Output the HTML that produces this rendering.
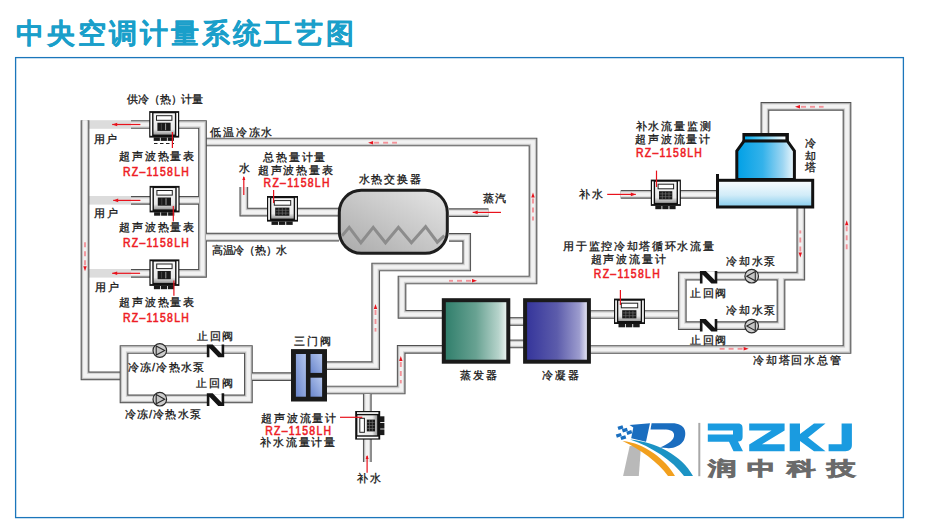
<!DOCTYPE html><html><head><meta charset="utf-8"><style>
html,body{margin:0;padding:0;background:#fff;width:927px;height:532px;overflow:hidden}
svg{display:block;font-family:"Liberation Sans",sans-serif}
</style></head><body>
<svg width="927" height="532" viewBox="0 0 927 532">
<defs>
<linearGradient id="gEvap" x1="0" x2="1" y1="0" y2="0"><stop offset="0" stop-color="#2e7d6a"/><stop offset="0.5" stop-color="#68a292"/><stop offset="0.85" stop-color="#b6d3cb"/><stop offset="1" stop-color="#f4f8f6"/></linearGradient>
<linearGradient id="gCond" x1="0" x2="1" y1="0" y2="0"><stop offset="0" stop-color="#33339a"/><stop offset="0.5" stop-color="#5c5cab"/><stop offset="0.85" stop-color="#9c9cce"/><stop offset="1" stop-color="#f2f2fa"/></linearGradient>
<linearGradient id="gExch" x1="0" x2="1" y1="1" y2="0"><stop offset="0" stop-color="#a9a9a9"/><stop offset="1" stop-color="#e6e6e6"/></linearGradient>
<linearGradient id="gValve" x1="0" x2="1" y1="1" y2="0"><stop offset="0" stop-color="#6a86cc"/><stop offset="1" stop-color="#b4c6ee"/></linearGradient>
<linearGradient id="gTower" x1="0" x2="1" y1="0" y2="0"><stop offset="0" stop-color="#00a0e6"/><stop offset="0.45" stop-color="#34b2ea"/><stop offset="0.8" stop-color="#9ed6f2"/><stop offset="1" stop-color="#eef8fd"/></linearGradient>
<linearGradient id="gBasin" x1="0" x2="0" y1="0" y2="1"><stop offset="0" stop-color="#fafdff"/><stop offset="0.55" stop-color="#d2ecf8"/><stop offset="1" stop-color="#86cdee"/></linearGradient>
<linearGradient id="gPanel" x1="0" x2="0" y1="0" y2="1"><stop offset="0" stop-color="#f6f6f6"/><stop offset="0.75" stop-color="#e8e8e8"/><stop offset="1" stop-color="#9a9a9a"/></linearGradient>
<linearGradient id="gCap" x1="0" x2="1" y1="0" y2="0"><stop offset="0" stop-color="#00aef0"/><stop offset="1" stop-color="#ffffff"/></linearGradient>
</defs>

<text x="15.5" y="42.5" font-size="28" font-weight="bold" letter-spacing="3.1" fill="#1a9fca" stroke="#1a9fca" stroke-width="0.25" stroke-linejoin="round">中央空调计量系统工艺图</text>
<rect x="15.6" y="57.6" width="887.8" height="460" fill="none" stroke="#1b76bb" stroke-width="1.3"/>
<rect x="89" y="120.2" width="42" height="8.6" fill="#dcdcdc"/>
<rect x="89" y="196.0" width="42" height="8.6" fill="#dcdcdc"/>
<rect x="89" y="269.0" width="42" height="8.6" fill="#dcdcdc"/>
<path d="M85,120.3 V375.8 H124.5" fill="none" stroke="#505050" stroke-width="8.7" stroke-linejoin="miter"/>
<path d="M85,120.3 V375.8 H124.5" fill="none" stroke="#aaaaaa" stroke-width="6.799999999999999" stroke-linejoin="miter"/>
<path d="M85,120.3 V375.8 H124.5" fill="none" stroke="#d4d4d4" stroke-width="5.3999999999999995" stroke-linejoin="miter"/>
<path d="M85,120.3 V375.8 H124.5" fill="none" stroke="#f2f2f2" stroke-width="3.6999999999999993" stroke-linejoin="miter"/>
<path d="M124,349.5 H248.4 V398.8 H124 Z" fill="none" stroke="#505050" stroke-width="8.7" stroke-linejoin="miter"/>
<path d="M124,349.5 H248.4 V398.8 H124 Z" fill="none" stroke="#aaaaaa" stroke-width="6.799999999999999" stroke-linejoin="miter"/>
<path d="M124,349.5 H248.4 V398.8 H124 Z" fill="none" stroke="#d4d4d4" stroke-width="5.3999999999999995" stroke-linejoin="miter"/>
<path d="M124,349.5 H248.4 V398.8 H124 Z" fill="none" stroke="#f2f2f2" stroke-width="3.6999999999999993" stroke-linejoin="miter"/>
<path d="M252,376.6 H292" fill="none" stroke="#505050" stroke-width="8.7" stroke-linejoin="miter"/>
<path d="M252,376.6 H292" fill="none" stroke="#aaaaaa" stroke-width="6.799999999999999" stroke-linejoin="miter"/>
<path d="M252,376.6 H292" fill="none" stroke="#d4d4d4" stroke-width="5.3999999999999995" stroke-linejoin="miter"/>
<path d="M252,376.6 H292" fill="none" stroke="#f2f2f2" stroke-width="3.6999999999999993" stroke-linejoin="miter"/>
<path d="M326,365.6 H375.7 V267 H466.7 V237.4 H449" fill="none" stroke="#505050" stroke-width="8.7" stroke-linejoin="miter"/>
<path d="M326,365.6 H375.7 V267 H466.7 V237.4 H449" fill="none" stroke="#aaaaaa" stroke-width="6.799999999999999" stroke-linejoin="miter"/>
<path d="M326,365.6 H375.7 V267 H466.7 V237.4 H449" fill="none" stroke="#d4d4d4" stroke-width="5.3999999999999995" stroke-linejoin="miter"/>
<path d="M326,365.6 H375.7 V267 H466.7 V237.4 H449" fill="none" stroke="#f2f2f2" stroke-width="3.6999999999999993" stroke-linejoin="miter"/>
<path d="M326,390 H401.2 V349.3 H443" fill="none" stroke="#505050" stroke-width="8.7" stroke-linejoin="miter"/>
<path d="M326,390 H401.2 V349.3 H443" fill="none" stroke="#aaaaaa" stroke-width="6.799999999999999" stroke-linejoin="miter"/>
<path d="M326,390 H401.2 V349.3 H443" fill="none" stroke="#d4d4d4" stroke-width="5.3999999999999995" stroke-linejoin="miter"/>
<path d="M326,390 H401.2 V349.3 H443" fill="none" stroke="#f2f2f2" stroke-width="3.6999999999999993" stroke-linejoin="miter"/>
<path d="M202.5,142 H533 V280 H402 V314.3 H443" fill="none" stroke="#505050" stroke-width="8.7" stroke-linejoin="miter"/>
<path d="M202.5,142 H533 V280 H402 V314.3 H443" fill="none" stroke="#aaaaaa" stroke-width="6.799999999999999" stroke-linejoin="miter"/>
<path d="M202.5,142 H533 V280 H402 V314.3 H443" fill="none" stroke="#d4d4d4" stroke-width="5.3999999999999995" stroke-linejoin="miter"/>
<path d="M202.5,142 H533 V280 H402 V314.3 H443" fill="none" stroke="#f2f2f2" stroke-width="3.6999999999999993" stroke-linejoin="miter"/>
<path d="M131,124.5 H202.5 V273.3 H131" fill="none" stroke="#505050" stroke-width="8.7" stroke-linejoin="miter"/>
<path d="M131,124.5 H202.5 V273.3 H131" fill="none" stroke="#aaaaaa" stroke-width="6.799999999999999" stroke-linejoin="miter"/>
<path d="M131,124.5 H202.5 V273.3 H131" fill="none" stroke="#d4d4d4" stroke-width="5.3999999999999995" stroke-linejoin="miter"/>
<path d="M131,124.5 H202.5 V273.3 H131" fill="none" stroke="#f2f2f2" stroke-width="3.6999999999999993" stroke-linejoin="miter"/>
<path d="M131,200.3 H199" fill="none" stroke="#505050" stroke-width="8.7" stroke-linejoin="miter"/>
<path d="M131,200.3 H199" fill="none" stroke="#aaaaaa" stroke-width="6.799999999999999" stroke-linejoin="miter"/>
<path d="M131,200.3 H199" fill="none" stroke="#d4d4d4" stroke-width="5.3999999999999995" stroke-linejoin="miter"/>
<path d="M131,200.3 H199" fill="none" stroke="#f2f2f2" stroke-width="3.6999999999999993" stroke-linejoin="miter"/>
<path d="M206,237.2 H339" fill="none" stroke="#505050" stroke-width="8.7" stroke-linejoin="miter"/>
<path d="M206,237.2 H339" fill="none" stroke="#aaaaaa" stroke-width="6.799999999999999" stroke-linejoin="miter"/>
<path d="M206,237.2 H339" fill="none" stroke="#d4d4d4" stroke-width="5.3999999999999995" stroke-linejoin="miter"/>
<path d="M206,237.2 H339" fill="none" stroke="#f2f2f2" stroke-width="3.6999999999999993" stroke-linejoin="miter"/>
<path d="M243.8,187 V212.2 H339" fill="none" stroke="#505050" stroke-width="8.7" stroke-linejoin="miter"/>
<path d="M243.8,187 V212.2 H339" fill="none" stroke="#aaaaaa" stroke-width="6.799999999999999" stroke-linejoin="miter"/>
<path d="M243.8,187 V212.2 H339" fill="none" stroke="#d4d4d4" stroke-width="5.3999999999999995" stroke-linejoin="miter"/>
<path d="M243.8,187 V212.2 H339" fill="none" stroke="#f2f2f2" stroke-width="3.6999999999999993" stroke-linejoin="miter"/>
<path d="M449,212.6 H488.5" fill="none" stroke="#505050" stroke-width="8.7" stroke-linejoin="miter"/>
<path d="M449,212.6 H488.5" fill="none" stroke="#aaaaaa" stroke-width="6.799999999999999" stroke-linejoin="miter"/>
<path d="M449,212.6 H488.5" fill="none" stroke="#d4d4d4" stroke-width="5.3999999999999995" stroke-linejoin="miter"/>
<path d="M449,212.6 H488.5" fill="none" stroke="#f2f2f2" stroke-width="3.6999999999999993" stroke-linejoin="miter"/>
<path d="M509,321.5 H524" fill="none" stroke="#505050" stroke-width="8.7" stroke-linejoin="miter"/>
<path d="M509,321.5 H524" fill="none" stroke="#aaaaaa" stroke-width="6.799999999999999" stroke-linejoin="miter"/>
<path d="M509,321.5 H524" fill="none" stroke="#d4d4d4" stroke-width="5.3999999999999995" stroke-linejoin="miter"/>
<path d="M509,321.5 H524" fill="none" stroke="#f2f2f2" stroke-width="3.6999999999999993" stroke-linejoin="miter"/>
<path d="M509,343.9 H524" fill="none" stroke="#505050" stroke-width="8.7" stroke-linejoin="miter"/>
<path d="M509,343.9 H524" fill="none" stroke="#aaaaaa" stroke-width="6.799999999999999" stroke-linejoin="miter"/>
<path d="M509,343.9 H524" fill="none" stroke="#d4d4d4" stroke-width="5.3999999999999995" stroke-linejoin="miter"/>
<path d="M509,343.9 H524" fill="none" stroke="#f2f2f2" stroke-width="3.6999999999999993" stroke-linejoin="miter"/>
<path d="M590,314.5 H682.3" fill="none" stroke="#505050" stroke-width="8.7" stroke-linejoin="miter"/>
<path d="M590,314.5 H682.3" fill="none" stroke="#aaaaaa" stroke-width="6.799999999999999" stroke-linejoin="miter"/>
<path d="M590,314.5 H682.3" fill="none" stroke="#d4d4d4" stroke-width="5.3999999999999995" stroke-linejoin="miter"/>
<path d="M590,314.5 H682.3" fill="none" stroke="#f2f2f2" stroke-width="3.6999999999999993" stroke-linejoin="miter"/>
<path d="M590,349.5 H847 V106.4 H764.9 V134" fill="none" stroke="#505050" stroke-width="8.7" stroke-linejoin="miter"/>
<path d="M590,349.5 H847 V106.4 H764.9 V134" fill="none" stroke="#aaaaaa" stroke-width="6.799999999999999" stroke-linejoin="miter"/>
<path d="M590,349.5 H847 V106.4 H764.9 V134" fill="none" stroke="#d4d4d4" stroke-width="5.3999999999999995" stroke-linejoin="miter"/>
<path d="M590,349.5 H847 V106.4 H764.9 V134" fill="none" stroke="#f2f2f2" stroke-width="3.6999999999999993" stroke-linejoin="miter"/>
<path d="M800.8,207 V276.2 H682.3 V325.7 H781 V276.2" fill="none" stroke="#505050" stroke-width="8.7" stroke-linejoin="miter"/>
<path d="M800.8,207 V276.2 H682.3 V325.7 H781 V276.2" fill="none" stroke="#aaaaaa" stroke-width="6.799999999999999" stroke-linejoin="miter"/>
<path d="M800.8,207 V276.2 H682.3 V325.7 H781 V276.2" fill="none" stroke="#d4d4d4" stroke-width="5.3999999999999995" stroke-linejoin="miter"/>
<path d="M800.8,207 V276.2 H682.3 V325.7 H781 V276.2" fill="none" stroke="#f2f2f2" stroke-width="3.6999999999999993" stroke-linejoin="miter"/>
<path d="M620.7,194.3 H717" fill="none" stroke="#505050" stroke-width="8.7" stroke-linejoin="miter"/>
<path d="M620.7,194.3 H717" fill="none" stroke="#aaaaaa" stroke-width="6.799999999999999" stroke-linejoin="miter"/>
<path d="M620.7,194.3 H717" fill="none" stroke="#d4d4d4" stroke-width="5.3999999999999995" stroke-linejoin="miter"/>
<path d="M620.7,194.3 H717" fill="none" stroke="#f2f2f2" stroke-width="3.6999999999999993" stroke-linejoin="miter"/>
<path d="M367.3,394 V462" fill="none" stroke="#505050" stroke-width="8.7" stroke-linejoin="miter"/>
<path d="M367.3,394 V462" fill="none" stroke="#aaaaaa" stroke-width="6.799999999999999" stroke-linejoin="miter"/>
<path d="M367.3,394 V462" fill="none" stroke="#d4d4d4" stroke-width="5.3999999999999995" stroke-linejoin="miter"/>
<path d="M367.3,394 V462" fill="none" stroke="#f2f2f2" stroke-width="3.6999999999999993" stroke-linejoin="miter"/>
<rect x="339.3" y="190.3" width="108" height="63" rx="22" ry="22" fill="url(#gExch)" stroke="#1e1e1e" stroke-width="3"/>
<polyline points="342.1,235.7 349.2,227.3 360.9,242.8 373.2,227.3 385.5,242.8 398.4,227.3 411.4,242.8 425.6,226.7 437.3,242.2 444.4,235.7" fill="none" stroke="#8c8c8c" stroke-width="3" stroke-linejoin="miter"/>
<rect x="443.8" y="300.2" width="64.5" height="61.5" fill="url(#gEvap)" stroke="#1a1a1a" stroke-width="4"/>
<rect x="525.1" y="300.2" width="63.8" height="61.5" fill="url(#gCond)" stroke="#1a1a1a" stroke-width="4"/>
<rect x="291" y="349.1" width="36" height="52.4" fill="#1a1a1a"/>
<rect x="295.9" y="354" width="10" height="42.7" fill="url(#gValve)"/>
<rect x="310.5" y="354" width="11.6" height="18.9" fill="url(#gValve)"/>
<rect x="310.5" y="377.7" width="11.6" height="19" fill="url(#gValve)"/>
<circle cx="159.8" cy="350.5" r="6.8" fill="#cdcdcd" stroke="#2a2a2a" stroke-width="1.2"/>
<path d="M156.20000000000002,345.9 L164.70000000000002,350.5 L156.20000000000002,355.1 Z" fill="#c4c4c4" stroke="#2a2a2a" stroke-width="1.1" stroke-linejoin="miter"/>
<circle cx="159.8" cy="399.2" r="6.8" fill="#cdcdcd" stroke="#2a2a2a" stroke-width="1.2"/>
<path d="M156.20000000000002,394.59999999999997 L164.70000000000002,399.2 L156.20000000000002,403.8 Z" fill="#c4c4c4" stroke="#2a2a2a" stroke-width="1.1" stroke-linejoin="miter"/>
<circle cx="751.7" cy="276.2" r="6.8" fill="#cdcdcd" stroke="#2a2a2a" stroke-width="1.2"/>
<path d="M755.3000000000001,271.59999999999997 L746.8000000000001,276.2 L755.3000000000001,280.8 Z" fill="#c4c4c4" stroke="#2a2a2a" stroke-width="1.1" stroke-linejoin="miter"/>
<circle cx="751.7" cy="326.1" r="6.8" fill="#cdcdcd" stroke="#2a2a2a" stroke-width="1.2"/>
<path d="M755.3000000000001,321.5 L746.8000000000001,326.1 L755.3000000000001,330.70000000000005 Z" fill="#c4c4c4" stroke="#2a2a2a" stroke-width="1.1" stroke-linejoin="miter"/>
<rect x="208.8" y="345.5" width="13.4" height="10.7" fill="#fff"/>
<path d="M206.8,357.2 V344.5 H212.70000000000002 L221.60000000000002,353.7 V344.5 H224.20000000000002 V357.2 H218.3 L209.4,348.0 V357.2 Z" fill="#141414"/>
<rect x="208.8" y="394.3" width="13.4" height="10.7" fill="#fff"/>
<path d="M206.8,406.0 V393.3 H212.70000000000002 L221.60000000000002,402.5 V393.3 H224.20000000000002 V406.0 H218.3 L209.4,396.8 V406.0 Z" fill="#141414"/>
<rect x="701.9" y="271.9" width="13.4" height="10.7" fill="#fff"/>
<path d="M699.9,283.59999999999997 V270.9 H705.8 L714.6999999999999,280.09999999999997 V270.9 H717.3 V283.59999999999997 H711.4 L702.5,274.4 V283.59999999999997 Z" fill="#141414"/>
<rect x="701.9" y="319.9" width="13.4" height="10.7" fill="#fff"/>
<path d="M699.9,331.59999999999997 V318.9 H705.8 L714.6999999999999,328.09999999999997 V318.9 H717.3 V331.59999999999997 H711.4 L702.5,322.4 V331.59999999999997 Z" fill="#141414"/>
<g>
<rect x="149.2" y="111.1" width="30" height="26.5" fill="#111"/>
<rect x="150.39999999999998" y="112.89999999999999" width="1.7" height="22.9" fill="#fff"/>
<rect x="176.29999999999998" y="112.89999999999999" width="1.7" height="22.9" fill="#fff"/>
<rect x="153.5" y="113.3" width="21.4" height="21.3" fill="url(#gPanel)"/>
<rect x="156.5" y="115.69999999999999" width="15.4" height="4.6" fill="#fff" stroke="#222" stroke-width="1"/>
<rect x="157.39999999999998" y="122.69999999999999" width="13.2" height="8.2" fill="#1a1a1a"/>
<line x1="165.6" y1="123.49999999999999" x2="165.6" y2="130.09999999999997" stroke="#aaa" stroke-width="0.9"/>
<line x1="161.4" y1="123.49999999999999" x2="161.4" y2="130.09999999999997" stroke="#555" stroke-width="0.7"/>
<rect x="153.7" y="137.4" width="6.2" height="3.5" fill="#1a1a1a"/>
<rect x="160.7" y="137.4" width="6.2" height="3.5" fill="#1a1a1a"/>
<rect x="167.7" y="137.4" width="6.2" height="3.5" fill="#1a1a1a"/>
</g>
<g>
<rect x="149.6" y="185.9" width="30" height="26.5" fill="#111"/>
<rect x="150.79999999999998" y="187.70000000000002" width="1.7" height="22.9" fill="#fff"/>
<rect x="176.7" y="187.70000000000002" width="1.7" height="22.9" fill="#fff"/>
<rect x="153.9" y="188.1" width="21.4" height="21.3" fill="url(#gPanel)"/>
<rect x="156.9" y="190.5" width="15.4" height="4.6" fill="#fff" stroke="#222" stroke-width="1"/>
<rect x="157.79999999999998" y="197.5" width="13.2" height="8.2" fill="#1a1a1a"/>
<line x1="166.0" y1="198.3" x2="166.0" y2="204.89999999999998" stroke="#aaa" stroke-width="0.9"/>
<line x1="161.8" y1="198.3" x2="161.8" y2="204.89999999999998" stroke="#555" stroke-width="0.7"/>
<rect x="154.1" y="212.20000000000002" width="6.2" height="3.5" fill="#1a1a1a"/>
<rect x="161.1" y="212.20000000000002" width="6.2" height="3.5" fill="#1a1a1a"/>
<rect x="168.1" y="212.20000000000002" width="6.2" height="3.5" fill="#1a1a1a"/>
</g>
<g>
<rect x="149.4" y="259.4" width="30" height="26.5" fill="#111"/>
<rect x="150.6" y="261.2" width="1.7" height="22.9" fill="#fff"/>
<rect x="176.5" y="261.2" width="1.7" height="22.9" fill="#fff"/>
<rect x="153.70000000000002" y="261.59999999999997" width="21.4" height="21.3" fill="url(#gPanel)"/>
<rect x="156.70000000000002" y="264.0" width="15.4" height="4.6" fill="#fff" stroke="#222" stroke-width="1"/>
<rect x="157.6" y="271.0" width="13.2" height="8.2" fill="#1a1a1a"/>
<line x1="165.8" y1="271.8" x2="165.8" y2="278.4" stroke="#aaa" stroke-width="0.9"/>
<line x1="161.6" y1="271.8" x2="161.6" y2="278.4" stroke="#555" stroke-width="0.7"/>
<rect x="153.9" y="285.7" width="6.2" height="3.5" fill="#1a1a1a"/>
<rect x="160.9" y="285.7" width="6.2" height="3.5" fill="#1a1a1a"/>
<rect x="167.9" y="285.7" width="6.2" height="3.5" fill="#1a1a1a"/>
</g>
<line x1="154" y1="143.5" x2="174" y2="143.5" stroke="#222" stroke-width="1.1" stroke-dasharray="3.5,2.5"/>
<g>
<rect x="267" y="196" width="31" height="25.6" fill="#111"/>
<rect x="268.2" y="197.8" width="1.7" height="22.0" fill="#fff"/>
<rect x="295.1" y="197.8" width="1.7" height="22.0" fill="#fff"/>
<rect x="271.3" y="198.2" width="22.4" height="20.400000000000002" fill="url(#gPanel)"/>
<rect x="274.3" y="200.6" width="16.4" height="4.6" fill="#fff" stroke="#222" stroke-width="1"/>
<rect x="275.2" y="207.6" width="14.2" height="8.2" fill="#1a1a1a"/>
<line x1="275.7" y1="210.3" x2="288.9" y2="210.3" stroke="#777" stroke-width="0.6"/>
<line x1="275.7" y1="213.1" x2="288.9" y2="213.1" stroke="#777" stroke-width="0.6"/>
<line x1="278.8" y1="208.1" x2="278.8" y2="215.29999999999998" stroke="#777" stroke-width="0.6"/>
<line x1="282.3" y1="208.1" x2="282.3" y2="215.29999999999998" stroke="#777" stroke-width="0.6"/>
<line x1="285.8" y1="208.1" x2="285.8" y2="215.29999999999998" stroke="#777" stroke-width="0.6"/>
<rect x="271.5" y="221.4" width="6.5" height="3.5" fill="#1a1a1a"/>
<rect x="278.8" y="221.4" width="6.5" height="3.5" fill="#1a1a1a"/>
<rect x="286.2" y="221.4" width="6.5" height="3.5" fill="#1a1a1a"/>
</g>
<g>
<rect x="650.8" y="179.6" width="30.1" height="26.3" fill="#111"/>
<rect x="652.0" y="181.4" width="1.7" height="22.7" fill="#fff"/>
<rect x="678.0" y="181.4" width="1.7" height="22.7" fill="#fff"/>
<rect x="655.0999999999999" y="181.79999999999998" width="21.5" height="21.1" fill="url(#gPanel)"/>
<rect x="658.0999999999999" y="184.2" width="15.500000000000002" height="4.6" fill="#fff" stroke="#222" stroke-width="1"/>
<rect x="659.0" y="191.2" width="13.3" height="8.2" fill="#1a1a1a"/>
<line x1="659.5" y1="193.9" x2="671.8" y2="193.9" stroke="#777" stroke-width="0.6"/>
<line x1="659.5" y1="196.7" x2="671.8" y2="196.7" stroke="#777" stroke-width="0.6"/>
<line x1="662.3" y1="191.7" x2="662.3" y2="198.89999999999998" stroke="#777" stroke-width="0.6"/>
<line x1="665.6" y1="191.7" x2="665.6" y2="198.89999999999998" stroke="#777" stroke-width="0.6"/>
<line x1="669.0" y1="191.7" x2="669.0" y2="198.89999999999998" stroke="#777" stroke-width="0.6"/>
<rect x="655.3" y="205.70000000000002" width="6.2" height="3.5" fill="#1a1a1a"/>
<rect x="662.3" y="205.70000000000002" width="6.2" height="3.5" fill="#1a1a1a"/>
<rect x="669.4" y="205.70000000000002" width="6.2" height="3.5" fill="#1a1a1a"/>
</g>
<g>
<rect x="614" y="298.6" width="31" height="25.4" fill="#111"/>
<rect x="615.2" y="300.40000000000003" width="1.7" height="21.799999999999997" fill="#fff"/>
<rect x="642.1" y="300.40000000000003" width="1.7" height="21.799999999999997" fill="#fff"/>
<rect x="618.3" y="300.8" width="22.4" height="20.2" fill="url(#gPanel)"/>
<rect x="621.3" y="303.20000000000005" width="16.4" height="4.6" fill="#fff" stroke="#222" stroke-width="1"/>
<rect x="622.2" y="310.20000000000005" width="14.2" height="8.2" fill="#1a1a1a"/>
<line x1="622.7" y1="312.9" x2="635.9000000000001" y2="312.9" stroke="#777" stroke-width="0.6"/>
<line x1="622.7" y1="315.7" x2="635.9000000000001" y2="315.7" stroke="#777" stroke-width="0.6"/>
<line x1="625.8" y1="310.70000000000005" x2="625.8" y2="317.90000000000003" stroke="#777" stroke-width="0.6"/>
<line x1="629.3" y1="310.70000000000005" x2="629.3" y2="317.90000000000003" stroke="#777" stroke-width="0.6"/>
<line x1="632.9" y1="310.70000000000005" x2="632.9" y2="317.90000000000003" stroke="#777" stroke-width="0.6"/>
<rect x="618.5" y="323.8" width="6.5" height="3.5" fill="#1a1a1a"/>
<rect x="625.8" y="323.8" width="6.5" height="3.5" fill="#1a1a1a"/>
<rect x="633.2" y="323.8" width="6.5" height="3.5" fill="#1a1a1a"/>
</g>
<g transform="translate(355.2,439.6) rotate(-90)">
<g>
<rect x="0" y="0" width="28.6" height="25" fill="#111"/>
<rect x="1.2" y="1.8" width="1.7" height="21.4" fill="#fff"/>
<rect x="25.700000000000003" y="1.8" width="1.7" height="21.4" fill="#fff"/>
<rect x="4.3" y="2.2" width="20.0" height="19.8" fill="url(#gPanel)"/>
<rect x="7.3" y="4.6" width="14.000000000000002" height="4.6" fill="#fff" stroke="#222" stroke-width="1"/>
<rect x="8.2" y="11.6" width="11.8" height="8.2" fill="#1a1a1a"/>
<line x1="8.7" y1="14.3" x2="19.5" y2="14.3" stroke="#777" stroke-width="0.6"/>
<line x1="8.7" y1="17.1" x2="19.5" y2="17.1" stroke="#777" stroke-width="0.6"/>
<line x1="11.1" y1="12.1" x2="11.1" y2="19.299999999999997" stroke="#777" stroke-width="0.6"/>
<line x1="14.1" y1="12.1" x2="14.1" y2="19.299999999999997" stroke="#777" stroke-width="0.6"/>
<line x1="17.1" y1="12.1" x2="17.1" y2="19.299999999999997" stroke="#777" stroke-width="0.6"/>
<rect x="4.5" y="24.8" width="5.7" height="4.4" fill="#1a1a1a"/>
<rect x="11.0" y="24.8" width="5.7" height="4.4" fill="#1a1a1a"/>
<rect x="17.6" y="24.8" width="5.7" height="4.4" fill="#1a1a1a"/>
</g>
</g>
<path d="M744,141 H787.3 L794.4,150.9 V179.5 H736.8 V150.9 Z" fill="url(#gTower)" stroke="#111" stroke-width="3" stroke-linejoin="miter"/>
<rect x="742.4" y="133" width="46.5" height="8.4" fill="#111"/>
<rect x="745" y="136.5" width="40.4" height="2.9" fill="url(#gCap)"/>
<rect x="717.5" y="180.3" width="95.2" height="26.7" fill="url(#gBasin)" stroke="#111" stroke-width="3"/>
<rect x="716" y="174" width="3" height="8" fill="#111"/>
<line x1="112.2" y1="124.5" x2="140.4" y2="124.5" stroke="#e8121c" stroke-width="1.2"/>
<path d="M112.2,124.5 l5,-1.8 v3.6 z" fill="#e8121c"/>
<line x1="113.2" y1="200.4" x2="140.4" y2="200.4" stroke="#e8121c" stroke-width="1.2"/>
<path d="M113.2,200.4 l5,-1.8 v3.6 z" fill="#e8121c"/>
<line x1="112.2" y1="273.3" x2="140.1" y2="273.3" stroke="#e8121c" stroke-width="1.2"/>
<path d="M112.2,273.3 l5,-1.8 v3.6 z" fill="#e8121c"/>
<line x1="172.4" y1="132" x2="172.4" y2="148" stroke="#e8121c" stroke-width="1.2"/>
<line x1="173.3" y1="206" x2="173.3" y2="221.6" stroke="#e8121c" stroke-width="1.2"/>
<line x1="173.9" y1="280.6" x2="173.9" y2="295.8" stroke="#e8121c" stroke-width="1.2"/>
<line x1="273.6" y1="190" x2="273.6" y2="203" stroke="#e8121c" stroke-width="1.2"/>
<line x1="243.8" y1="177" x2="243.8" y2="195" stroke="#e8121c" stroke-width="1.2"/>
<path d="M243.8,176 l-1.5,4 h3 z" fill="#e8121c"/>
<line x1="472.7" y1="212.4" x2="501" y2="212.4" stroke="#e8121c" stroke-width="1.2"/>
<path d="M472.7,212.4 l5,-1.8 v3.6 z" fill="#e8121c"/>
<line x1="607.2" y1="194.4" x2="635.8" y2="194.4" stroke="#e8121c" stroke-width="1.2"/>
<path d="M635.8,194.4 l-5,-1.8 v3.6 z" fill="#e8121c"/>
<line x1="656.5" y1="170.6" x2="656.5" y2="187" stroke="#e8121c" stroke-width="1.2"/>
<line x1="620.4" y1="290" x2="620.4" y2="305.1" stroke="#e8121c" stroke-width="1.2"/>
<line x1="340" y1="417.3" x2="362.3" y2="417.3" stroke="#e8121c" stroke-width="1.2"/>
<line x1="367.1" y1="456" x2="367.1" y2="472.7" stroke="#e8121c" stroke-width="1.2"/>
<path d="M367.1,455 l-1.5,4 h3 z" fill="#e8121c"/>
<path d="M368.1,142.7 L373.1,144.39999999999998 L373.1,141.0 Z" fill="#e8121c"/>
<line x1="379.1" y1="142.7" x2="374.1" y2="142.7" stroke="#f3939a" stroke-width="1.9"/>
<line x1="388.1" y1="142.7" x2="383.1" y2="142.7" stroke="#f3939a" stroke-width="1.9"/>
<line x1="397.0" y1="142.7" x2="392.1" y2="142.7" stroke="#f3939a" stroke-width="1.9"/>
<path d="M533,192.4 L531.3,197.4 L534.7,197.4 Z" fill="#e8121c"/>
<line x1="533.0" y1="203.4" x2="533.0" y2="198.4" stroke="#f3939a" stroke-width="1.9"/>
<line x1="533.0" y1="212.4" x2="533.0" y2="207.4" stroke="#f3939a" stroke-width="1.9"/>
<line x1="533.0" y1="220.6" x2="533.0" y2="216.4" stroke="#f3939a" stroke-width="1.9"/>
<path d="M477,280.8 L472.0,279.1 L472.0,282.5 Z" fill="#e8121c"/>
<line x1="466.0" y1="280.8" x2="471.0" y2="280.8" stroke="#f3939a" stroke-width="1.9"/>
<line x1="457.0" y1="280.8" x2="462.0" y2="280.8" stroke="#f3939a" stroke-width="1.9"/>
<line x1="449.0" y1="280.8" x2="453.0" y2="280.8" stroke="#f3939a" stroke-width="1.9"/>
<path d="M375.5,304 L373.8,309.0 L377.2,309.0 Z" fill="#e8121c"/>
<line x1="375.5" y1="315.0" x2="375.5" y2="310.0" stroke="#f3939a" stroke-width="1.9"/>
<line x1="375.5" y1="324.0" x2="375.5" y2="319.0" stroke="#f3939a" stroke-width="1.9"/>
<line x1="375.5" y1="331.6" x2="375.5" y2="328.0" stroke="#f3939a" stroke-width="1.9"/>
<path d="M400.8,356 L399.1,361.0 L402.5,361.0 Z" fill="#e8121c"/>
<line x1="400.8" y1="367.0" x2="400.8" y2="362.0" stroke="#f3939a" stroke-width="1.9"/>
<line x1="400.8" y1="376.0" x2="400.8" y2="371.0" stroke="#f3939a" stroke-width="1.9"/>
<line x1="400.8" y1="383.4" x2="400.8" y2="380.0" stroke="#f3939a" stroke-width="1.9"/>
<path d="M85,271.2 L86.7,266.2 L83.3,266.2 Z" fill="#e8121c"/>
<line x1="85.0" y1="260.2" x2="85.0" y2="265.2" stroke="#f3939a" stroke-width="1.9"/>
<line x1="85.0" y1="251.2" x2="85.0" y2="256.2" stroke="#f3939a" stroke-width="1.9"/>
<line x1="85.0" y1="242.2" x2="85.0" y2="247.2" stroke="#f3939a" stroke-width="1.9"/>
<path d="M795,106.8 L800.0,108.5 L800.0,105.1 Z" fill="#e8121c"/>
<line x1="806.0" y1="106.8" x2="801.0" y2="106.8" stroke="#f3939a" stroke-width="1.9"/>
<line x1="815.0" y1="106.8" x2="810.0" y2="106.8" stroke="#f3939a" stroke-width="1.9"/>
<line x1="823.6" y1="106.8" x2="819.0" y2="106.8" stroke="#f3939a" stroke-width="1.9"/>
<path d="M800.3,257.5 L802.0,252.5 L798.5999999999999,252.5 Z" fill="#e8121c"/>
<line x1="800.3" y1="246.5" x2="800.3" y2="251.5" stroke="#f3939a" stroke-width="1.9"/>
<line x1="800.3" y1="237.5" x2="800.3" y2="242.5" stroke="#f3939a" stroke-width="1.9"/>
<line x1="800.3" y1="230.4" x2="800.3" y2="233.5" stroke="#f3939a" stroke-width="1.9"/>
<path d="M846.7,220.3 L845.0,225.3 L848.4000000000001,225.3 Z" fill="#e8121c"/>
<line x1="846.7" y1="231.3" x2="846.7" y2="226.3" stroke="#f3939a" stroke-width="1.9"/>
<line x1="846.7" y1="240.3" x2="846.7" y2="235.3" stroke="#f3939a" stroke-width="1.9"/>
<line x1="846.7" y1="249.3" x2="846.7" y2="244.3" stroke="#f3939a" stroke-width="1.9"/>
<path d="M748.6,348.8 L743.6,347.1 L743.6,350.5 Z" fill="#e8121c"/>
<line x1="737.6" y1="348.8" x2="742.6" y2="348.8" stroke="#f3939a" stroke-width="1.9"/>
<line x1="728.6" y1="348.8" x2="733.6" y2="348.8" stroke="#f3939a" stroke-width="1.9"/>
<line x1="719.6" y1="348.8" x2="724.6" y2="348.8" stroke="#f3939a" stroke-width="1.9"/>
<text x="127.19999999999999" y="102.5" font-size="11" letter-spacing="-0.15" fill="#161616" stroke="#161616" stroke-width="0.3" font-weight="normal" >供冷（热）计量</text>
<text x="93.6" y="143.3" font-size="11" letter-spacing="1.8" fill="#161616" stroke="#161616" stroke-width="0.3" font-weight="normal" >用户</text>
<text x="94.3" y="216.9" font-size="11" letter-spacing="1.8" fill="#161616" stroke="#161616" stroke-width="0.3" font-weight="normal" >用户</text>
<text x="95.1" y="291.2" font-size="11" letter-spacing="1.8" fill="#161616" stroke="#161616" stroke-width="0.3" font-weight="normal" >用户</text>
<text x="119.3" y="159.8" font-size="11" letter-spacing="1.8" fill="#161616" stroke="#161616" stroke-width="0.3" font-weight="normal" >超声波热量表</text>
<text transform="translate(122.9,175.6) scale(0.87,1.0)" x="0" y="0" font-family="Liberation Sans" font-size="12" letter-spacing="1.5" fill="#ee1c25" stroke="#ee1c25" stroke-width="0.55">RZ–1158LH</text>
<text x="119.3" y="231.4" font-size="11" letter-spacing="1.8" fill="#161616" stroke="#161616" stroke-width="0.3" font-weight="normal" >超声波热量表</text>
<text transform="translate(122.9,247.0) scale(0.87,1.0)" x="0" y="0" font-family="Liberation Sans" font-size="12" letter-spacing="1.5" fill="#ee1c25" stroke="#ee1c25" stroke-width="0.55">RZ–1158LH</text>
<text x="119.3" y="305.9" font-size="11" letter-spacing="1.8" fill="#161616" stroke="#161616" stroke-width="0.3" font-weight="normal" >超声波热量表</text>
<text transform="translate(122.9,321.59999999999997) scale(0.87,1.0)" x="0" y="0" font-family="Liberation Sans" font-size="12" letter-spacing="1.5" fill="#ee1c25" stroke="#ee1c25" stroke-width="0.55">RZ–1158LH</text>
<text x="210.3" y="135.9" font-size="11" letter-spacing="1.8" fill="#161616" stroke="#161616" stroke-width="0.3" font-weight="normal" >低温冷冻水</text>
<text x="263.2" y="160.9" font-size="11" letter-spacing="1.8" fill="#161616" stroke="#161616" stroke-width="0.3" font-weight="normal" >总热量计量</text>
<text x="257.9" y="173.7" font-size="11" letter-spacing="1.8" fill="#161616" stroke="#161616" stroke-width="0.3" font-weight="normal" >超声波热量表</text>
<text transform="translate(263.59999999999997,187.3) scale(0.87,1.0)" x="0" y="0" font-family="Liberation Sans" font-size="12" letter-spacing="1.5" fill="#ee1c25" stroke="#ee1c25" stroke-width="0.55">RZ–1158LH</text>
<text x="239" y="171.7" font-size="11" letter-spacing="1.8" fill="#161616" stroke="#161616" stroke-width="0.3" font-weight="normal" >水</text>
<text x="358.7" y="182.6" font-size="11" letter-spacing="1.8" fill="#161616" stroke="#161616" stroke-width="0.3" font-weight="normal" >水热交换器</text>
<text x="482.5" y="202.1" font-size="11" letter-spacing="1.8" fill="#161616" stroke="#161616" stroke-width="0.3" font-weight="normal" >蒸汽</text>
<text x="211.8" y="253.5" font-size="11" letter-spacing="-0.25" fill="#161616" stroke="#161616" stroke-width="0.3" font-weight="normal" >高温冷（热）水</text>
<text x="127.69999999999999" y="371.0" font-size="11" letter-spacing="1.2" fill="#161616" stroke="#161616" stroke-width="0.3" font-weight="normal" >冷冻/冷热水泵</text>
<text x="124.5" y="418.1" font-size="11" letter-spacing="1.2" fill="#161616" stroke="#161616" stroke-width="0.3" font-weight="normal" >冷冻/冷热水泵</text>
<text x="196.9" y="339.8" font-size="11" letter-spacing="1.8" fill="#161616" stroke="#161616" stroke-width="0.3" font-weight="normal" >止回阀</text>
<text x="196.3" y="386.8" font-size="11" letter-spacing="1.8" fill="#161616" stroke="#161616" stroke-width="0.3" font-weight="normal" >止回阀</text>
<text x="294" y="344.6" font-size="11" letter-spacing="1.8" fill="#161616" stroke="#161616" stroke-width="0.3" font-weight="normal" >三门阀</text>
<text x="460" y="378.6" font-size="11" letter-spacing="1.8" fill="#161616" stroke="#161616" stroke-width="0.3" font-weight="normal" >蒸发器</text>
<text x="542.4" y="379.0" font-size="11" letter-spacing="1.8" fill="#161616" stroke="#161616" stroke-width="0.3" font-weight="normal" >冷凝器</text>
<text x="261.2" y="421.6" font-size="11" letter-spacing="1.8" fill="#161616" stroke="#161616" stroke-width="0.3" font-weight="normal" >超声波流量计</text>
<text transform="translate(265.2,435.09999999999997) scale(0.87,1.0)" x="0" y="0" font-family="Liberation Sans" font-size="12" letter-spacing="1.5" fill="#ee1c25" stroke="#ee1c25" stroke-width="0.55">RZ–1158LH</text>
<text x="260.3" y="445.9" font-size="11" letter-spacing="1.8" fill="#161616" stroke="#161616" stroke-width="0.3" font-weight="normal" >补水流量计量</text>
<text x="356.9" y="481.7" font-size="11" letter-spacing="1.8" fill="#161616" stroke="#161616" stroke-width="0.3" font-weight="normal" >补水</text>
<text x="635.6" y="129.5" font-size="11" letter-spacing="1.8" fill="#161616" stroke="#161616" stroke-width="0.3" font-weight="normal" >补水流量监测</text>
<text x="635.2" y="142.5" font-size="11" letter-spacing="1.8" fill="#161616" stroke="#161616" stroke-width="0.3" font-weight="normal" >超声波流量计</text>
<text transform="translate(636.0,157.20000000000002) scale(0.87,1.0)" x="0" y="0" font-family="Liberation Sans" font-size="12" letter-spacing="1.5" fill="#ee1c25" stroke="#ee1c25" stroke-width="0.55">RZ–1158LH</text>
<text x="579" y="197.8" font-size="11" letter-spacing="1.8" fill="#161616" stroke="#161616" stroke-width="0.3" font-weight="normal" >补水</text>
<text x="805.3" y="147.1" font-size="11" letter-spacing="1.8" fill="#161616" stroke="#161616" stroke-width="0.3" font-weight="normal" >冷</text>
<text x="805.3" y="159.8" font-size="11" letter-spacing="1.8" fill="#161616" stroke="#161616" stroke-width="0.3" font-weight="normal" >却</text>
<text x="805.3" y="170.8" font-size="11" letter-spacing="1.8" fill="#161616" stroke="#161616" stroke-width="0.3" font-weight="normal" >塔</text>
<text x="563.2" y="250.0" font-size="11" letter-spacing="1.7" fill="#161616" stroke="#161616" stroke-width="0.3" font-weight="normal" >用于监控冷却塔循环水流量</text>
<text x="590.7" y="262.9" font-size="11" letter-spacing="1.8" fill="#161616" stroke="#161616" stroke-width="0.3" font-weight="normal" >超声波流量计</text>
<text transform="translate(593.8,278.29999999999995) scale(0.87,1.0)" x="0" y="0" font-family="Liberation Sans" font-size="12" letter-spacing="1.5" fill="#ee1c25" stroke="#ee1c25" stroke-width="0.55">RZ–1158LH</text>
<text x="726" y="264.9" font-size="11" letter-spacing="1.8" fill="#161616" stroke="#161616" stroke-width="0.3" font-weight="normal" >冷却水泵</text>
<text x="726" y="313.9" font-size="11" letter-spacing="1.8" fill="#161616" stroke="#161616" stroke-width="0.3" font-weight="normal" >冷却水泵</text>
<text x="689.9" y="296.6" font-size="11" letter-spacing="1.8" fill="#161616" stroke="#161616" stroke-width="0.3" font-weight="normal" >止回阀</text>
<text x="689.9" y="343.9" font-size="11" letter-spacing="1.8" fill="#161616" stroke="#161616" stroke-width="0.3" font-weight="normal" >止回阀</text>
<text x="753" y="363.8" font-size="11" letter-spacing="1.8" fill="#161616" stroke="#161616" stroke-width="0.3" font-weight="normal" >冷却塔回水总管</text>
<g>
<rect x="617.9" y="425.90000000000003" width="5.2" height="3.4" fill="#1a6fc0" transform="rotate(-18 620.5 427.6)"/>
<rect x="622.3" y="428.40000000000003" width="5.2" height="3.4" fill="#1a6fc0" transform="rotate(-18 624.9 430.1)"/>
<rect x="626.6999999999999" y="430.8" width="5.2" height="3.4" fill="#1a6fc0" transform="rotate(-18 629.3 432.5)"/>
<rect x="616.1999999999999" y="433.6" width="5.2" height="3.4" fill="#1a6fc0" transform="rotate(-18 618.8 435.3)"/>
<rect x="620.6999999999999" y="435.90000000000003" width="5.2" height="3.4" fill="#1a6fc0" transform="rotate(-18 623.3 437.6)"/>
<path d="M629.5,425 L650,423.3 L646,441.8 L631.2,438.3 L633.3,427.6 Z" fill="#1a6dbf"/>
<path d="M651.6,423.2 H672 C686,423.2 687,433 684,440 C681,446 672,449 667,448 L660,447.5 C668,444 675,440 674,434 C673,430 668,429.5 662,429.5 H650.5 Z" fill="#1a6dbf"/>
<path d="M629.7,446 L641,446.3 L638.8,476 L623.1,476 Z" fill="#b9b9b9"/>
<path d="M622.5,441 C645,443 666,460 675,476 L668,476 C658,462 640,449 622.5,441 Z" fill="#f2a01e"/>
<path d="M630,439.5 C655,442 682,455 693,476 L684,476 C672,460 652,447 630,439.5 Z" fill="#1c93c4"/>
<rect x="698.3" y="422.9" width="2" height="53.3" fill="#a8a8a8"/>
<path d="M707.8,423.6 H738 C742,423.6 742.6,426 742.6,429 V437 C742.6,440 741,441.5 738,441.5 L743,451.2 H733.5 L729,441.8 H707.8 V434.6 H733 V430.6 H707.8 Z" fill="#1a9be0"/>
<path d="M749.2,423.6 H784.6 V430.5 L762,444.2 H784.6 V451.2 H749.2 V444.5 L771.5,430.5 H749.2 Z" fill="#1a9be0"/>
<path d="M789.7,423.6 H800 V434 L814,423.6 H825.5 L808,437.4 L825.5,451.2 H814 L800,441 V451.2 H789.7 Z" fill="#1a9be0"/>
<path d="M841.6,423.6 H851.9 V445 C851.9,449 849.5,451.2 845.5,451.2 H828.6 V444.3 H841.6 Z" fill="#1a9be0"/>
<text transform="translate(707.5,474.8) scale(1.5,1)" x="0" y="0" font-size="19.5" font-weight="bold" letter-spacing="7" fill="#6a6a6a" stroke="#6a6a6a" stroke-width="0.8">润中科技</text>
</g>
</svg></body></html>
